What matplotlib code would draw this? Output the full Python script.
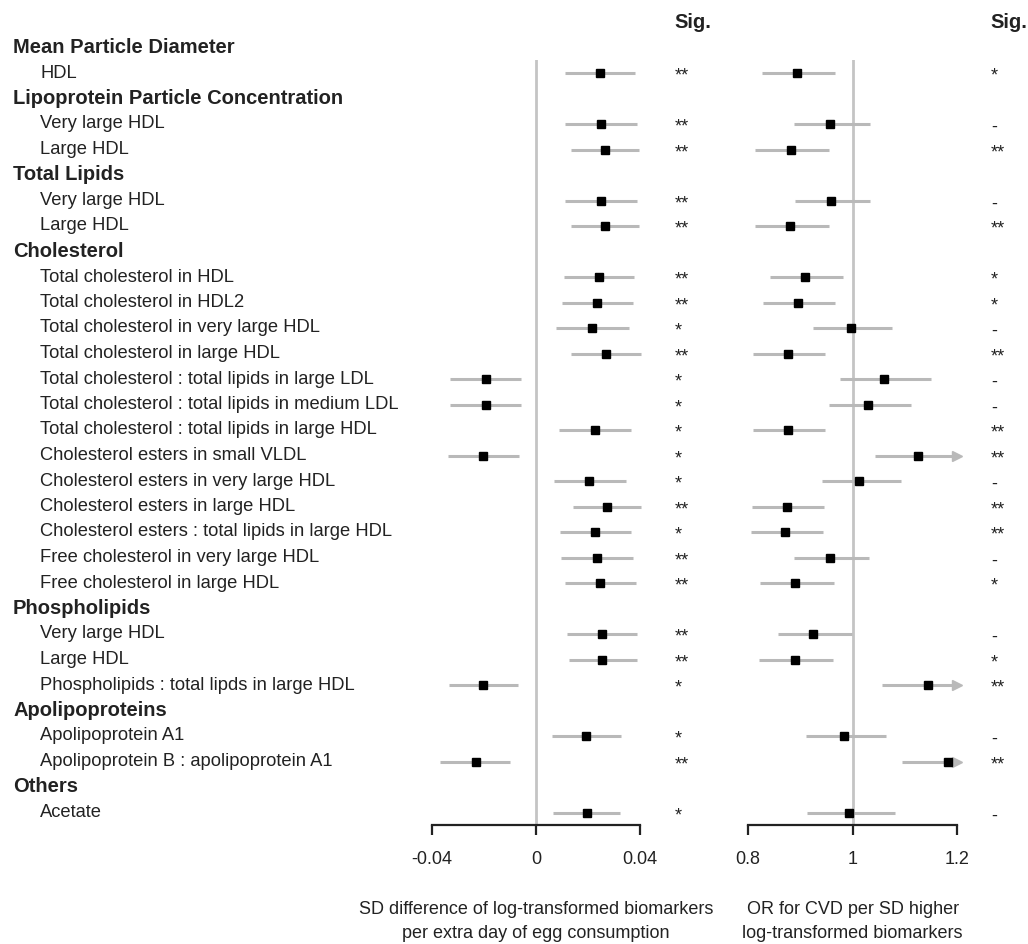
import matplotlib
matplotlib.use("Agg")
import matplotlib.pyplot as plt
import numpy as np
from matplotlib.transforms import blended_transform_factory
from matplotlib.ticker import FixedLocator, FixedFormatter

plt.rcParams['font.family'] = ['Liberation Sans', 'DejaVu Sans']
plt.rcParams['axes.unicode_minus'] = False

# ---------------- data ----------------
sections = ["Mean Particle Diameter", "Lipoprotein Particle Concentration", "Total Lipids",
            "Cholesterol", "Phospholipids", "Apolipoproteins", "Others"]
section_sizes = [1, 2, 2, 13, 3, 2, 1]

items = ["HDL",
         "Very large HDL", "Large HDL",
         "Very large HDL", "Large HDL",
         "Total cholesterol in HDL", "Total cholesterol in HDL2",
         "Total cholesterol in very large HDL", "Total cholesterol in large HDL",
         "Total cholesterol : total lipids in large LDL",
         "Total cholesterol : total lipids in medium LDL",
         "Total cholesterol : total lipids in large HDL",
         "Cholesterol esters in small VLDL", "Cholesterol esters in very large HDL",
         "Cholesterol esters in large HDL", "Cholesterol esters : total lipids in large HDL",
         "Free cholesterol in very large HDL", "Free cholesterol in large HDL",
         "Very large HDL", "Large HDL", "Phospholipids : total lipds in large HDL",
         "Apolipoprotein A1", "Apolipoprotein B : apolipoprotein A1",
         "Acetate"]

egg_est = [0.0245, 0.0249, 0.0264, 0.0248, 0.0265, 0.0241, 0.0235, 0.0215, 0.0268, -0.0193,
           -0.0193, 0.0226, -0.0204, 0.0204, 0.0272, 0.0228, 0.0233, 0.0246, 0.0253, 0.0253,
           -0.0202, 0.0192, -0.0232, 0.0195]
egg_lo = [0.0110, 0.0113, 0.0133, 0.0112, 0.0133, 0.0108, 0.0101, 0.0078, 0.0136, -0.0329,
          -0.0329, 0.0089, -0.0336, 0.0068, 0.0141, 0.0092, 0.0096, 0.0113, 0.0118, 0.0125,
          -0.0335, 0.0062, -0.0367, 0.0065]
egg_hi = [0.0380, 0.0386, 0.0396, 0.0386, 0.0396, 0.0376, 0.0371, 0.0355, 0.0401, -0.0056,
          -0.0056, 0.0363, -0.0067, 0.0344, 0.0401, 0.0363, 0.0371, 0.0382, 0.0387, 0.0386,
          -0.0069, 0.0327, -0.0100, 0.0323]
egg_sig = ["**", "**", "**", "**", "**", "**", "**", "*", "**", "*", "*", "*", "*", "*",
           "**", "*", "**", "**", "**", "**", "*", "*", "**", "*"]

cvd_or = [0.894, 0.957, 0.882, 0.958, 0.881, 0.909, 0.895, 0.996, 0.876, 1.059, 1.030, 0.876,
          1.125, 1.013, 0.874, 0.871, 0.956, 0.890, 0.925, 0.890, 1.144, 0.983, 1.182, 0.993]
cvd_lo = [0.827, 0.887, 0.814, 0.889, 0.814, 0.842, 0.828, 0.924, 0.809, 0.976, 0.955, 0.809,
          1.042, 0.941, 0.807, 0.805, 0.887, 0.822, 0.857, 0.821, 1.057, 0.910, 1.095, 0.913]
cvd_hi = [0.967, 1.033, 0.955, 1.034, 0.954, 0.982, 0.967, 1.075, 0.948, 1.150, 1.111, 0.948,
          1.215, 1.092, 0.946, 0.943, 1.031, 0.964, 0.999, 0.963, 1.238, 1.063, 1.276, 1.080]
cvd_sig = ["*", "-", "**", "-", "**", "*", "*", "-", "**", "-", "-", "**", "**", "-", "**",
           "**", "-", "*", "-", "*", "**", "-", "**", "-"]

egg_ticks = [-0.04, 0, 0.04]
egg_ticklabels = ["-0.04", "0", "0.04"]
cvd_ticks = [0.8, 1.0, 1.2]
cvd_ticklabels = ["0.8", "1", "1.2"]
egg_ref = 0
cvd_ref = 1.0
cvd_truncate = 1.2   # CIs beyond this are cut and shown with an arrow
egg_xlabel = ["SD difference of log-transformed biomarkers", "per extra day of egg consumption"]
cvd_xlabel = ["OR for CVD per SD higher", "log-transformed biomarkers"]
sig_title = "Sig."

# ---------------- layout ----------------
W, H = 1028, 944
fig = plt.figure(figsize=(W / 100, H / 100), dpi=100)

header_rows, item_rows = [], []
r = 0
for n in section_sizes:
    header_rows.append(r)
    r += 1
    for _ in range(n):
        item_rows.append(r)
        r += 1
n_rows = r

ytop_px = 47.5 + 0.5 * 25.5
ybot_px = 47.5 + (n_rows - 0.5) * 25.5


def px_axes(x0, x1):
    return fig.add_axes([x0 / W, 1 - ybot_px / H, (x1 - x0) / W, (ybot_px - ytop_px) / H])


axL = px_axes(431.7, 640.3)
axR = px_axes(748.0, 957.3)

ci_color = "#b9b9b9"
ref_color = "#c4c4c4"
ink = "#222222"


def draw_panel(ax, est, lo, hi, sig, ticks, ticklabels, ref, xlabel, sig_x_px, truncate=None):
    ax.set_xlim(ticks[0], ticks[-1])
    ax.set_ylim(n_rows - 0.5, 0.5)
    ax.axvline(ref, color=ref_color, lw=2.0, zorder=1)
    rows = np.array(item_rows)
    hi = np.array(hi, dtype=float)
    if truncate is not None:
        over = hi > truncate
        hi_c = np.minimum(hi, truncate)
    else:
        over = np.zeros(len(hi), dtype=bool)
        hi_c = hi
    ax.hlines(rows, lo, hi_c, color=ci_color, lw=2.2, zorder=2, clip_on=False)
    if over.any():
        ax.plot(hi_c[over], rows[over], linestyle="none", marker=">", markersize=7,
                color=ci_color, zorder=2, clip_on=False)
    ax.plot(est, rows, linestyle="none", marker="s", markersize=6, color="black", zorder=3,
            clip_on=False)
    for s in ["top", "right", "left"]:
        ax.spines[s].set_visible(False)
    ax.spines["bottom"].set_linewidth(1.6)
    ax.spines["bottom"].set_color(ink)
    ax.set_yticks([])
    ax.xaxis.set_major_locator(FixedLocator(ticks))
    ax.xaxis.set_major_formatter(FixedFormatter(ticklabels))
    ax.tick_params(axis="x", direction="out", length=7.5, width=1.6, color=ink,
                   pad=11, labelsize=13, labelcolor=ink)
    ax.patch.set_alpha(0)
    tr = blended_transform_factory(fig.transFigure, ax.transData)
    for rr, s in zip(item_rows, sig):
        ax.text(sig_x_px / W, rr + 0.31, s, transform=tr, ha="left", va="baseline",
                fontsize=13, color=ink, clip_on=False)
    ax.text(sig_x_px / W - 1 / W, -1.0, sig_title, transform=tr, ha="left", va="center",
            fontsize=14.5, fontweight="bold", color=ink, clip_on=False)
    trx = blended_transform_factory(ax.transAxes, fig.transFigure)
    for line, ypx in zip(xlabel, [909, 934]):
        ax.text(0.5, 1 - ypx / H, line, transform=trx, ha="center", va="center",
                fontsize=13, color=ink, clip_on=False)


draw_panel(axL, egg_est, egg_lo, egg_hi, egg_sig, egg_ticks, egg_ticklabels, egg_ref,
           egg_xlabel, 675)
draw_panel(axR, cvd_or, cvd_lo, cvd_hi, cvd_sig, cvd_ticks, cvd_ticklabels, cvd_ref,
           cvd_xlabel, 991, truncate=cvd_truncate)

trl = blended_transform_factory(fig.transFigure, axL.transData)
for rr, name in zip(header_rows, sections):
    axL.text(13 / W, rr, name, transform=trl, ha="left", va="center", fontsize=14.5,
             fontweight="bold", color=ink, clip_on=False)
for rr, name in zip(item_rows, items):
    axL.text(40 / W, rr, name, transform=trl, ha="left", va="center", fontsize=13.2,
             color=ink, clip_on=False)

fig.savefig("out.png", dpi=100, facecolor="white")
